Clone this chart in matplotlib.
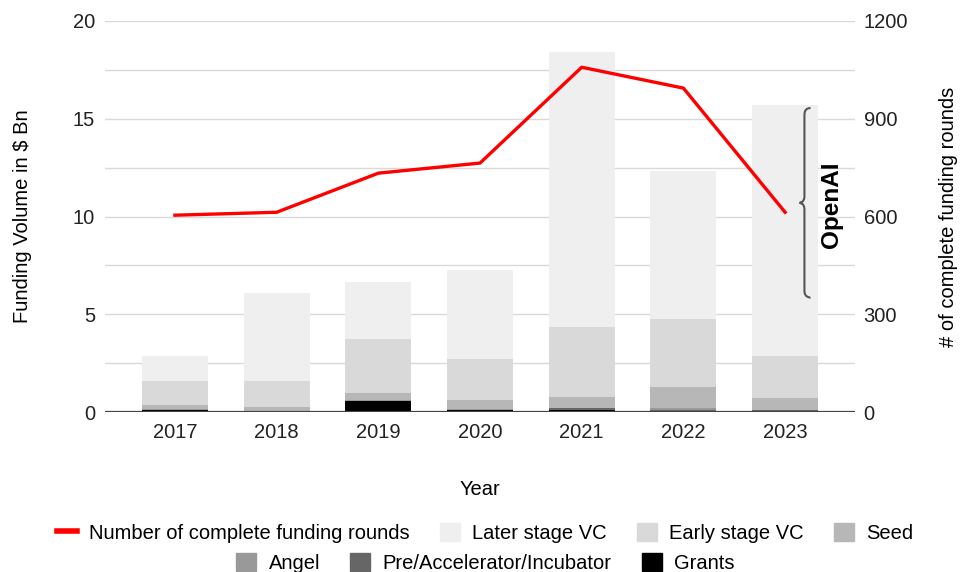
import numpy as np
import matplotlib.pyplot as plt
from matplotlib.path import Path
from matplotlib.patches import PathPatch, Patch
from matplotlib.lines import Line2D

plt.rcParams['font.family'] = ['Liberation Sans', 'DejaVu Sans']

years = ['2017', '2018', '2019', '2020', '2021', '2022', '2023']

# funding volume by stage, $ Bn
grants = [0.08, 0.03, 0.55, 0.08, 0.10, 0.04, 0.03]
pre_accel = [0.04, 0.02, 0.02, 0.04, 0.08, 0.08, 0.05]
angel = [0.03, 0.02, 0.03, 0.03, 0.05, 0.06, 0.04]
seed = [0.21, 0.20, 0.37, 0.46, 0.55, 1.12, 0.60]
early_vc = [1.23, 1.32, 2.76, 2.10, 3.58, 3.46, 2.14]
later_vc = [1.27, 4.50, 2.92, 4.55, 14.04, 7.57, 12.84]

# number of complete funding rounds
rounds = [604, 613, 733, 764, 1058, 994, 613]

stack = [
    ('Grants', grants, '#000000'),
    ('Pre/Accelerator/Incubator', pre_accel, '#666666'),
    ('Angel', angel, '#999999'),
    ('Seed', seed, '#b7b7b7'),
    ('Early stage VC', early_vc, '#d9d9d9'),
    ('Later stage VC', later_vc, '#efefef'),
]

FS = 14.5

fig = plt.figure(figsize=(9.61, 5.72), dpi=100)
ax = fig.add_axes([0.109, 0.2797, 0.781, 0.6836])
ax2 = ax.twinx()

x = np.arange(len(years))
bottom = np.zeros(len(years))
for name, vals, col in stack:
    ax.bar(x, vals, 0.65, bottom=bottom, color=col, zorder=2)
    bottom += np.array(vals)

ax2.plot(x, rounds, color='#ff0000', lw=2.4, zorder=3)

ax.set_xlim(-0.69, 6.69)
ax.set_ylim(0, 20)
ax2.set_ylim(0, 1200)
ax.set_yticks([0, 5, 10, 15, 20])
ax.set_yticks([2.5, 7.5, 12.5, 17.5], minor=True)
ax2.set_yticks([0, 300, 600, 900, 1200])
ax.set_xticks(x)
ax.set_xticklabels(years)
ax.grid(axis='y', which='both', color='#d9d9d9', lw=1, zorder=0)
ax.set_axisbelow(True)

for a in (ax, ax2):
    for s in ('top', 'left', 'right', 'bottom'):
        a.spines[s].set_visible(False)
    a.tick_params(length=0, labelsize=FS, colors='#222222')
    a.tick_params(which='minor', length=0)
ax.axhline(0, color='#444444', lw=1.6, zorder=4)
ax.tick_params(axis='y', pad=7)
ax.tick_params(axis='x', pad=8)
ax2.tick_params(axis='y', pad=6)

ax.set_xlabel('Year', fontsize=FS, labelpad=27)
ax.set_ylabel('Funding Volume in $ Bn', fontsize=FS, labelpad=29)
ax2.set_ylabel('# of complete funding rounds', fontsize=FS, labelpad=22)

# brace marking the OpenAI round in 2023
def brace(x0, y0, y1, w):
    ym = (y0 + y1) / 2
    k = (y0 - y1) * 0.035
    verts = [
        (x0 + w, y0), (x0, y0), (x0, y0 - k),
        (x0, ym + k),
        (x0, ym), (x0 - w * 0.8, ym), (x0 - w * 0.8, ym),
        (x0 - w * 0.8, ym), (x0, ym), (x0, ym - k),
        (x0, y1 + k),
        (x0, y1), (x0 + w, y1), (x0 + w, y1),
    ]
    codes = [Path.MOVETO, Path.CURVE3, Path.CURVE3,
             Path.LINETO,
             Path.CURVE4, Path.CURVE4, Path.CURVE4,
             Path.CURVE4, Path.CURVE4, Path.CURVE4,
             Path.LINETO,
             Path.CURVE4, Path.CURVE4, Path.CURVE4]
    return Path(verts, codes)

ax.add_patch(PathPatch(brace(6.19, 15.55, 5.85, 0.06), fill=False,
                       edgecolor='#555555', lw=1.5, zorder=5, clip_on=False))
ax.text(6.46, 10.6, 'OpenAI', rotation=90, fontsize=17.5, fontweight='bold',
        ha='center', va='center', zorder=5)

row1 = [Line2D([0], [0], color='#ff0000', lw=4),
        Patch(color='#efefef'), Patch(color='#d9d9d9'), Patch(color='#b7b7b7')]
lab1 = ['Number of complete funding rounds', 'Later stage VC', 'Early stage VC', 'Seed']
row2 = [Patch(color='#999999'), Patch(color='#666666'), Patch(color='#000000')]
lab2 = ['Angel', 'Pre/Accelerator/Incubator', 'Grants']

kw = dict(frameon=False, fontsize=FS, handlelength=1.0, handleheight=1.0,
          handletextpad=0.6, columnspacing=1.5, borderaxespad=0)
fig.legend(row1, lab1, ncol=4, loc='center', bbox_to_anchor=(0.505, 0.068), **kw)
fig.legend(row2, lab2, ncol=3, loc='center', bbox_to_anchor=(0.505, 0.016), **kw)

fig.savefig('out.png', dpi=100)
